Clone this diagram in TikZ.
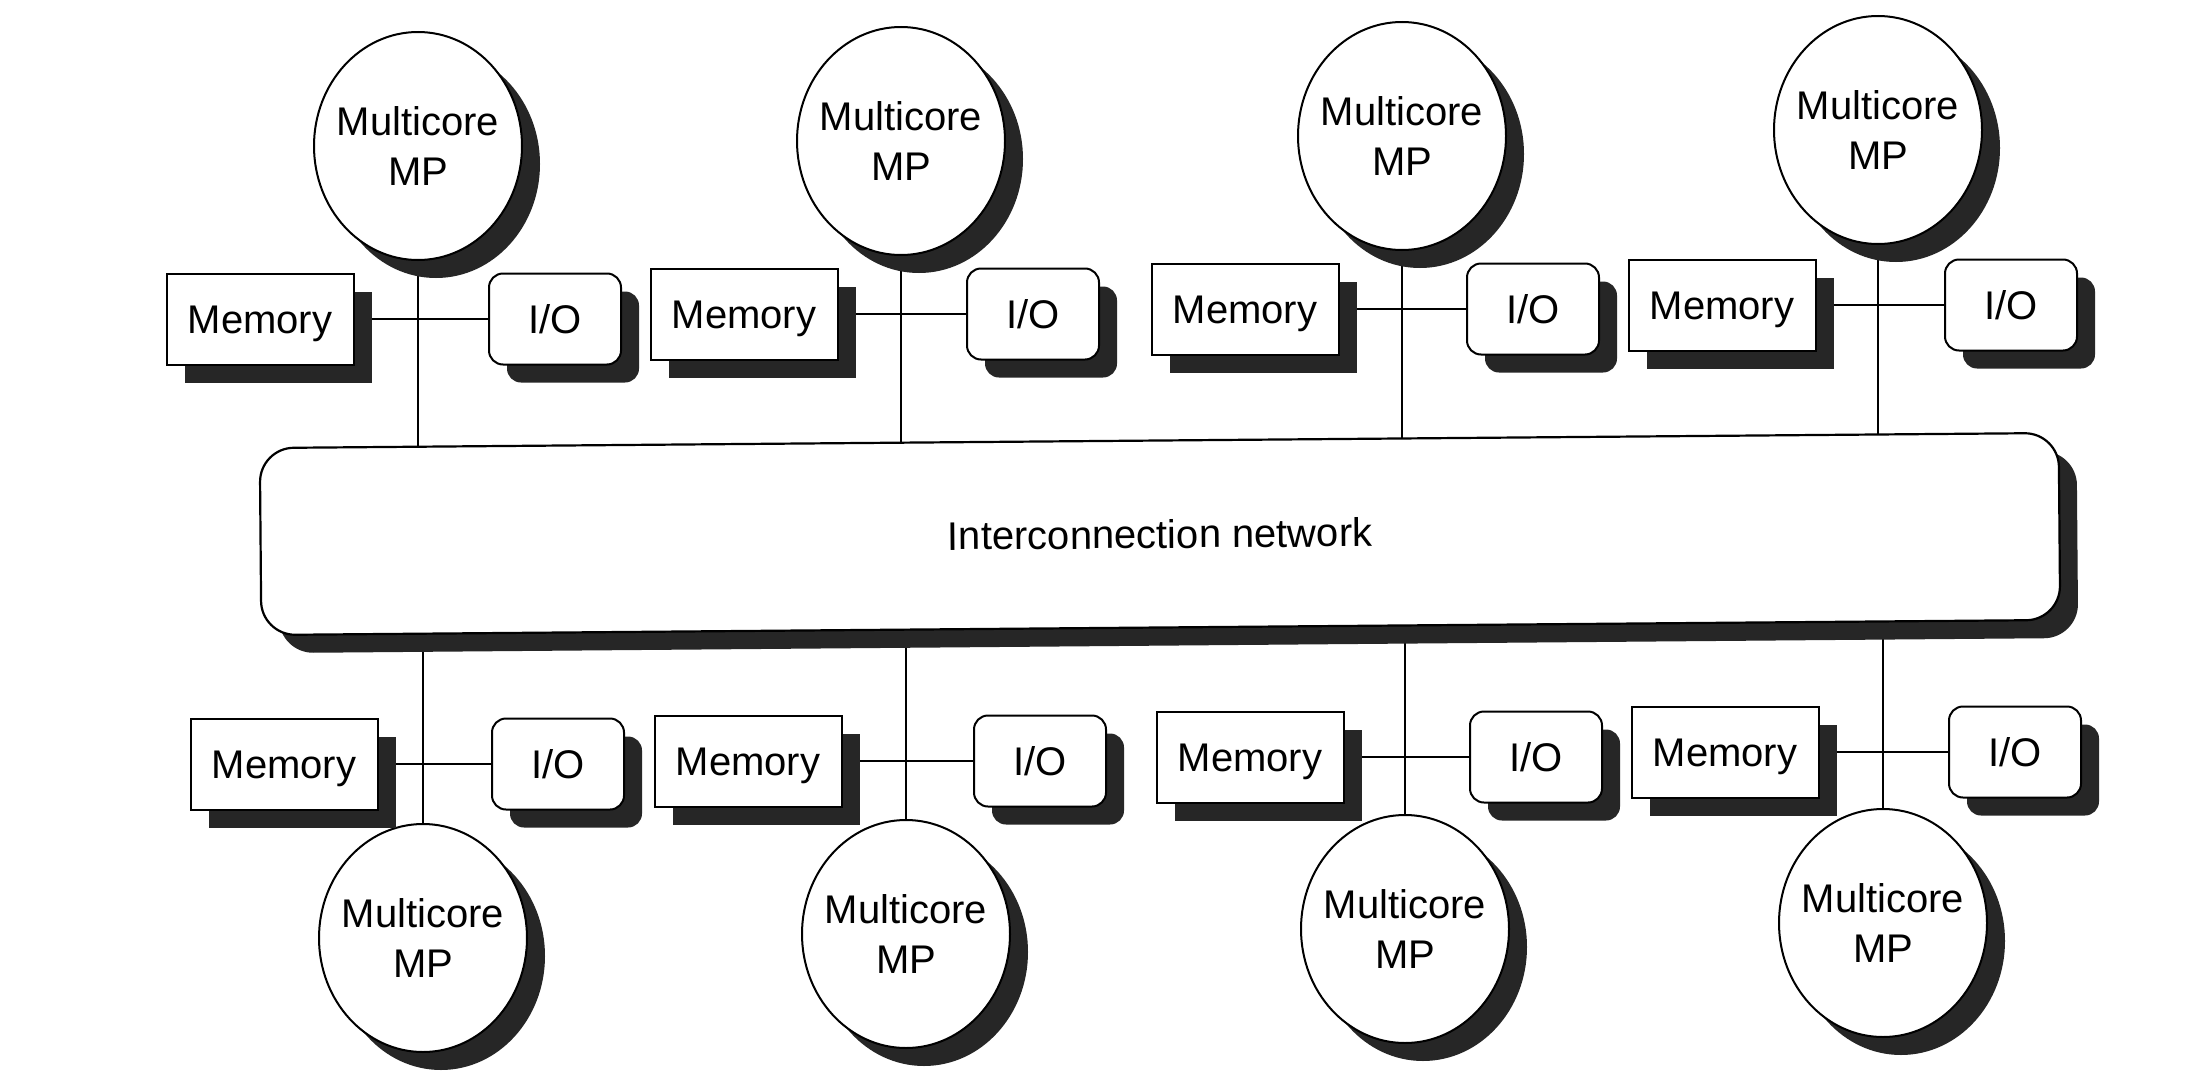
\documentclass[tikz,border=0pt]{standalone}
\usepackage{fontspec}
\setmainfont{Liberation Sans}
\usetikzlibrary{shapes.geometric,shadows,backgrounds}
\begin{document}
\begin{tikzpicture}[x=1pt,y=-1pt,
  dshadow/.style={drop shadow={shadow xshift=18pt,shadow yshift=-18pt,fill=black!85,opacity=1}},
  lbl/.style={font=\fontsize{40}{50}\selectfont},
  cpunode/.style={ellipse,draw,line width=2pt,fill=white,minimum width=208pt,minimum height=228pt,inner xsep=-12pt,inner ysep=0pt,align=center,lbl,dshadow},
  memnode/.style={rectangle,draw,line width=2pt,fill=white,minimum width=187pt,minimum height=91pt,inner sep=0pt,text height=29pt,text depth=0pt,lbl,dshadow},
  ionode/.style={rectangle,rounded corners=14pt,draw,line width=2pt,fill=white,minimum width=132pt,minimum height=91pt,inner sep=0pt,text height=29pt,text depth=0pt,lbl,dshadow},
  netnode/.style={rectangle,rounded corners=34pt,draw,line width=2.2pt,fill=white,minimum width=1799pt,minimum height=187pt,inner sep=0pt,rotate=0.48,lbl,dshadow},
  linkline/.style={line width=2.4pt}]
\useasboundingbox (0,0) rectangle (2196,1084);

% interconnection network
\node[netnode] (netw) at (1160,534) {Interconnection network};

% top row
\node[cpunode] (c1) at (418,146) {Multicore\\MP};
\node[memnode] (m1) at (260,319) {Memory};
\node[ionode]  (io1) at (555,319) {I/O};

\node[cpunode] (c2) at (901,141) {Multicore\\MP};
\node[memnode] (m2) at (744,314) {Memory};
\node[ionode]  (io2) at (1033,314) {I/O};

\node[cpunode] (c3) at (1402,136) {Multicore\\MP};
\node[memnode] (m3) at (1245,309) {Memory};
\node[ionode]  (io3) at (1533,309) {I/O};

\node[cpunode] (c4) at (1878,130) {Multicore\\MP};
\node[memnode] (m4) at (1722,305) {Memory};
\node[ionode]  (io4) at (2011,305) {I/O};

% bottom row
\node[cpunode] (c5) at (423,938) {Multicore\\MP};
\node[memnode] (m5) at (284,764) {Memory};
\node[ionode]  (io5) at (558,764) {I/O};

\node[cpunode] (c6) at (906,934) {Multicore\\MP};
\node[memnode] (m6) at (748,761) {Memory};
\node[ionode]  (io6) at (1040,761) {I/O};

\node[cpunode] (c7) at (1405,929) {Multicore\\MP};
\node[memnode] (m7) at (1250,757) {Memory};
\node[ionode]  (io7) at (1536,757) {I/O};

\node[cpunode] (c8) at (1883,923) {Multicore\\MP};
\node[memnode] (m8) at (1725,752) {Memory};
\node[ionode]  (io8) at (2015,752) {I/O};

\begin{scope}[on background layer]
  \fill[white] (0,0) rectangle (2196,1084);
  \foreach \i in {1,...,8}{
    \draw[linkline] (c\i.center) -- (c\i.center |- netw.center);
    \draw[linkline] (m\i.center) -- (io\i.center);
  }
\end{scope}
\end{tikzpicture}
\end{document}
